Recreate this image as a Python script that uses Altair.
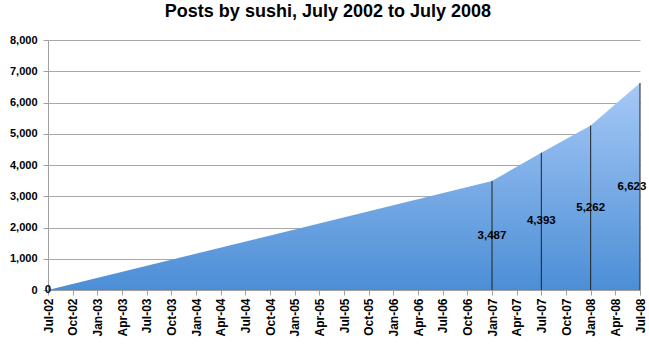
import altair as alt
import pandas as pd

months = [0, 54, 60, 66, 72]
posts = [0, 3487, 4393, 5262, 6623]
tick_labels = ["Jul-02", "Oct-02", "Jan-03", "Apr-03", "Jul-03", "Oct-03", "Jan-04",
               "Apr-04", "Jul-04", "Oct-04", "Jan-05", "Apr-05", "Jul-05", "Oct-05",
               "Jan-06", "Apr-06", "Jul-06", "Oct-06", "Jan-07", "Apr-07", "Jul-07",
               "Oct-07", "Jan-08", "Apr-08", "Jul-08"]

df = pd.DataFrame({"m": months, "posts": posts})
df["half"] = df["posts"] / 2
df["label"] = [f"{v:,}" for v in posts]

FONT = "Liberation Sans"
arr = "[" + ",".join(f"'{t}'" for t in tick_labels) + "]"

xscale = alt.Scale(domain=[0, 72], nice=False, zero=False)
yscale = alt.Scale(domain=[0, 8000], nice=False)
xaxis = alt.Axis(values=list(range(0, 73, 3)), labelExpr=f"{arr}[round(datum.value/3)]",
                 labelAngle=-90, labelFontWeight="bold", labelFontSize=12,
                 labelFont=FONT, labelColor="black", grid=False, domainColor="#a0a0a0",
                 tickColor="#a0a0a0", tickSize=5, labelPadding=3, title=None,
                 labelAlign="right", labelBaseline="middle", labelOverlap=False,
                 labelFlush=False, labelBound=False)
yaxis = alt.Axis(values=list(range(0, 8001, 1000)), format=",d", labelFontWeight="bold",
                 labelFontSize=11, labelFont=FONT, labelColor="black",
                 gridColor="#a8a8a8", domainColor="#a0a0a0", tickColor="#a0a0a0",
                 tickSize=5, labelPadding=6, title=None, labelOverlap=False,
                 labelFlush=False, labelBound=False)

def X(f="m"):
    return alt.X(f"{f}:Q", scale=xscale, axis=xaxis)

def Y(f):
    return alt.Y(f"{f}:Q", scale=yscale, axis=yaxis)

area = alt.Chart(df).mark_area(
    color=alt.Gradient(gradient="linear", x1=0, y1=0, x2=0, y2=1,
                       stops=[alt.GradientStop(color="#a6c9f6", offset=0),
                              alt.GradientStop(color="#4c8ed6", offset=1)]),
    opacity=1
).encode(x=X(), y=Y("posts"))

rules = alt.Chart(df).mark_rule(color="#222222", strokeWidth=1).encode(
    x=X(), y=Y("posts"), y2=alt.datum(0))

text_main = alt.Chart(df[df["m"] < 72]).mark_text(
    font=FONT, fontSize=11.5, fontWeight="bold", color="black", align="center", baseline="middle"
).encode(x=X(), y=Y("half"), text="label:N")

text_last = alt.Chart(df[df["m"] == 72]).mark_text(
    font=FONT, fontSize=11.5, fontWeight="bold", color="black", align="center",
    baseline="middle", dx=-8
).encode(x=X(), y=Y("half"), text="label:N")

chart = alt.layer(area, rules, text_main, text_last).properties(
    width=592, height=250,
    title=alt.TitleParams("Posts by sushi, July 2002 to July 2008", font=FONT, fontSize=18,
                          fontWeight="bold", anchor="middle", frame="bounds", offset=13,
                          color="black"),
    autosize=alt.AutoSizeParams(type="none"),
    padding={"left": 48, "top": 40, "right": 9, "bottom": 54},
).configure(background="white").configure_view(stroke="transparent", strokeWidth=0)

chart.save("out.html", embed_options={"renderer": "svg", "actions": False})
